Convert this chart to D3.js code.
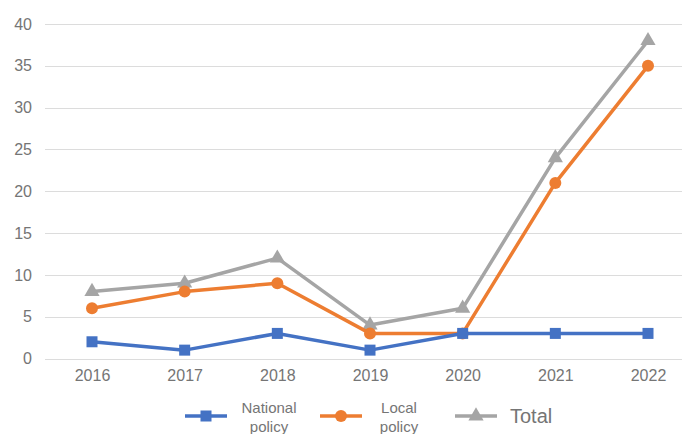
<!DOCTYPE html>
<html>
<head>
<meta charset="utf-8">
<script src="https://cdn.jsdelivr.net/npm/d3@7"></script>
<style>
  html, body { margin: 0; padding: 0; background: #ffffff; }
  svg { display: block; font-family: "Liberation Sans", Arial, sans-serif; }
</style>
</head>
<body>
<svg id="chart" width="682" height="434"></svg>
<script>
// Policy counts per year
const years = ["2016", "2017", "2018", "2019", "2020", "2021", "2022"];
const nationalPolicy = [2, 1, 3, 1, 3, 3, 3];
const localPolicy = [6, 8, 9, 3, 3, 21, 35];
const totalPolicy = [8, 9, 12, 4, 6, 24, 38];
const yTicks = [0, 5, 10, 15, 20, 25, 30, 35, 40];

const series = [
  { name: ["National", "policy"], values: nationalPolicy, color: "#4472C4", marker: "square" },
  { name: ["Local", "policy"], values: localPolicy, color: "#ED7D31", marker: "circle" },
  { name: ["Total"], values: totalPolicy, color: "#A5A5A5", marker: "triangle" }
];

const svg = d3.select("#chart");
const W = 682, H = 434;

const x = d3.scalePoint().domain(years).range([92, 648]);
const y = d3.scaleLinear().domain([0, 40]).range([358.5, 24]);

// Horizontal gridlines
svg.append("g")
  .selectAll("line")
  .data(yTicks)
  .join("line")
  .attr("x1", 45).attr("x2", W)
  .attr("y1", d => Math.round(y(d)) + 0.5)
  .attr("y2", d => Math.round(y(d)) + 0.5)
  .attr("stroke", "#dcdcdc")
  .attr("stroke-width", 1.2);

// Y axis labels
const yAxis = d3.axisLeft(y).tickValues(yTicks).tickSize(0).tickPadding(0);
svg.append("g")
  .attr("transform", "translate(32,0)")
  .call(yAxis)
  .call(g => g.select(".domain").remove())
  .call(g => g.selectAll("text")
    .attr("fill", "#757575")
    .attr("font-size", 16)
    .attr("font-family", "'Liberation Sans', Arial, sans-serif"));

// X axis labels
const xAxis = d3.axisBottom(x).tickSize(0).tickPadding(0);
svg.append("g")
  .attr("transform", "translate(0,370)")
  .call(xAxis)
  .call(g => g.select(".domain").remove())
  .call(g => g.selectAll("text")
    .attr("fill", "#757575")
    .attr("font-size", 16)
    .attr("font-family", "'Liberation Sans', Arial, sans-serif"));

const line = d3.line()
  .x((d, i) => x(years[i]))
  .y(d => y(d));

function drawMarker(g, type, color, cx, cy) {
  if (type === "square") {
    g.append("rect")
      .attr("x", cx - 5.5).attr("y", cy - 5.5)
      .attr("width", 11).attr("height", 11)
      .attr("fill", color);
  } else if (type === "circle") {
    g.append("circle")
      .attr("cx", cx).attr("cy", cy).attr("r", 6)
      .attr("fill", color);
  } else {
    g.append("path")
      .attr("d", d3.symbol().type(d3.symbolTriangle).size(100)())
      .attr("transform", `translate(${cx},${cy})`)
      .attr("fill", color);
  }
}

// Lines, drawn bottom-up so Total sits behind
series.slice().reverse().forEach(s => {
  const g = svg.append("g");
  g.append("path")
    .datum(s.values)
    .attr("d", line)
    .attr("fill", "none")
    .attr("stroke", s.color)
    .attr("stroke-width", 3.5)
    .attr("stroke-linejoin", "round");
  s.values.forEach((v, i) => drawMarker(g, s.marker, s.color, x(years[i]), y(v)));
});

// Legend
const legendItems = [
  { s: series[0], x0: 185, tx: 269, size: 15 },
  { s: series[1], x0: 320, tx: 399, size: 15 },
  { s: series[2], x0: 455, tx: 510, size: 20 }
];
const ly = 416;
legendItems.forEach(item => {
  const g = svg.append("g");
  g.append("line")
    .attr("x1", item.x0).attr("x2", item.x0 + 42)
    .attr("y1", ly).attr("y2", ly)
    .attr("stroke", item.s.color)
    .attr("stroke-width", 3.5);
  drawMarker(g, item.s.marker, item.s.color, item.x0 + 21, ly);
  if (item.s.name.length === 2) {
    item.s.name.forEach((t, j) => {
      g.append("text")
        .attr("x", item.tx).attr("y", 413 + j * 19)
        .attr("text-anchor", "middle")
        .attr("fill", "#757575")
        .attr("font-size", item.size)
        .text(t);
    });
  } else {
    g.append("text")
      .attr("x", item.tx).attr("y", ly + 7)
      .attr("fill", "#757575")
      .attr("font-size", item.size)
      .text(item.s.name[0]);
  }
});
</script>
</body>
</html>
